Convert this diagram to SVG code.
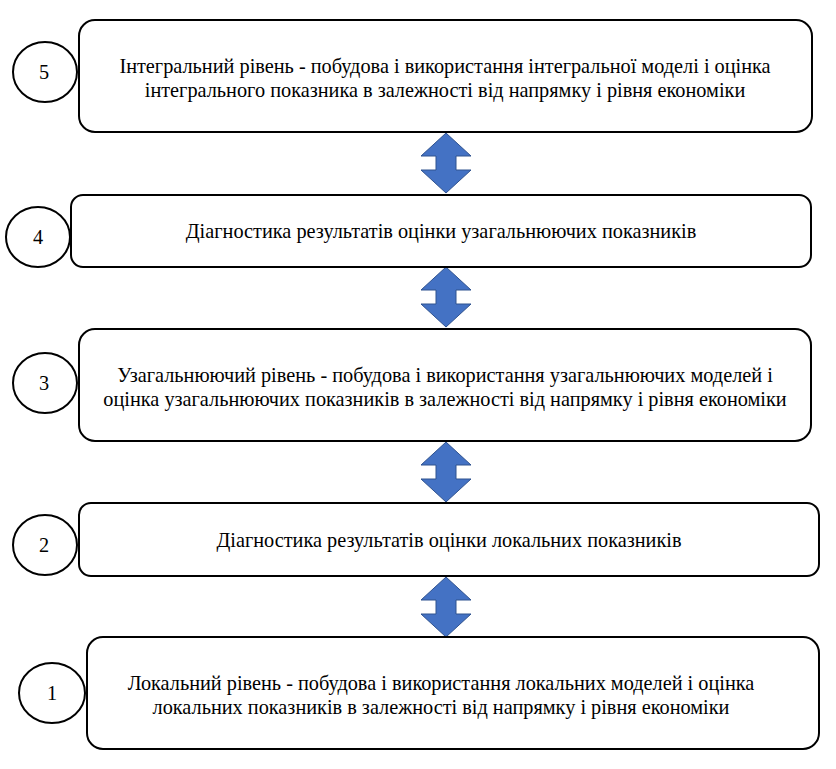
<svg xmlns="http://www.w3.org/2000/svg" width="836" height="769" viewBox="0 0 836 769">
<style>
.box{fill:#fff;stroke:#000;stroke-width:2}
.circ{fill:#fff;stroke:#000;stroke-width:2}
.arr{fill:#4472C4;stroke:#2F528F;stroke-width:1}
</style>
<defs>
<path id="ud" d="M0,0 L25,23 L10,23 L10,37 L25,37 L0,60 L-25,37 L-10,37 L-10,23 L-25,23 Z"/>
</defs>
<rect width="836" height="769" fill="#fff"/>
<g id="connectors">
<use href="#ud" class="arr" x="446" y="133"/>
<use href="#ud" class="arr" x="446" y="267"/>
<use href="#ud" class="arr" x="446" y="442"/>
<use href="#ud" class="arr" x="446" y="577"/>
</g>
<g font-family="Times New Roman, Liberation Serif, Tinos, DejaVu Serif, serif" font-size="20.3" fill="#000" text-anchor="middle">
<g id="node5">
<rect class="box" x="79" y="20" width="733" height="112" rx="16"/>
<text x="445" y="73">Інтегральний рівень - побудова і використання інтегральної моделі і оцінка</text>
<text x="445" y="97">інтегрального показника в залежності від напрямку і рівня економіки</text>
</g>
<g id="circle5">
<ellipse class="circ" cx="45" cy="72" rx="32" ry="30"/>
<text x="44" y="79">5</text>
</g>
<g id="node4">
<rect class="box" x="71" y="195" width="740" height="72" rx="12"/>
<text x="441" y="238">Діагностика результатів оцінки узагальнюючих показників</text>
</g>
<g id="circle4">
<ellipse class="circ" cx="38" cy="237" rx="32" ry="30"/>
<text x="38" y="244">4</text>
</g>
<g id="node3">
<rect class="box" x="79" y="329" width="732" height="112" rx="16"/>
<text x="445" y="382">Узагальнюючий рівень - побудова і використання узагальнюючих моделей і</text>
<text x="445" y="406">оцінка узагальнюючих показників в залежності від напрямку і рівня економіки</text>
</g>
<g id="circle3">
<ellipse class="circ" cx="45" cy="383" rx="32" ry="30"/>
<text x="44" y="390">3</text>
</g>
<g id="node2">
<rect class="box" x="79" y="503" width="740" height="73" rx="12"/>
<text x="449" y="547">Діагностика результатів оцінки локальних показників</text>
</g>
<g id="circle2">
<ellipse class="circ" cx="45" cy="545" rx="32" ry="30"/>
<text x="44" y="552">2</text>
</g>
<g id="node1">
<rect class="box" x="87" y="637" width="732" height="112" rx="16"/>
<text x="441" y="690">Локальний рівень - побудова і використання локальних моделей і оцінка</text>
<text x="441" y="714">локальних показників в залежності від напрямку і рівня економіки</text>
</g>
<g id="circle1">
<ellipse class="circ" cx="52" cy="693" rx="33" ry="30"/>
<text x="52" y="700">1</text>
</g>
</g>
</svg>
